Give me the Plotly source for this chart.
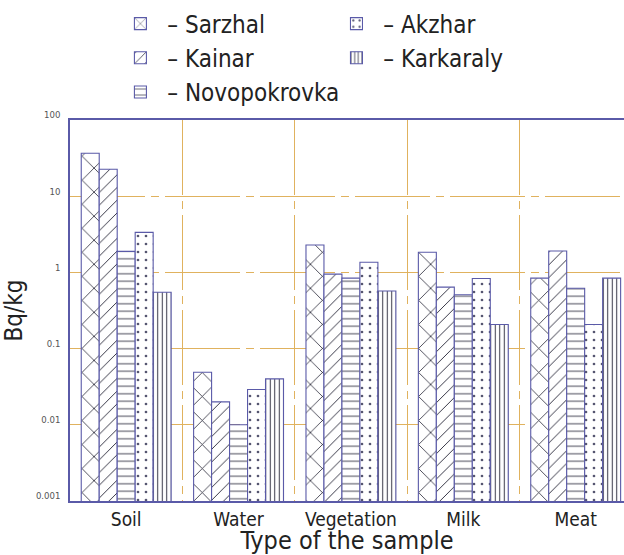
import plotly.graph_objects as go

categories = ["Soil", "Water", "Vegetation", "Milk", "Meat"]
sarzhal = [36.6, 0.049, 2.29, 1.84, 0.84]
kainar = [22.6, 0.020, 0.95, 0.64, 1.91]
novopokrovka = [1.89, 0.010, 0.84, 0.51, 0.62]
akzhar = [3.35, 0.029, 1.36, 0.83, 0.207]
karkaraly = [0.55, 0.040, 0.57, 0.207, 0.84]

NB = "\u00a0"
series = [
    (NB + "– Sarzhal", sarzhal, "x", 17, 0.09, "#222233", "legend"),
    (NB + "– Kainar", kainar, "/", 9, 0.1, "#222233", "legend"),
    (NB + "– Novopokrovka", novopokrovka, "-", 7.5, 0.12, "#333344", "legend"),
    (NB + "– Akzhar", akzhar, ".", 8, 0.09, "#555570", "legend2"),
    (NB + "– Karkaraly", karkaraly, "|", 4.5, 0.22, "#333344", "legend2"),
]

FONT = "Liberation Sans Narrow, DejaVu Sans Condensed, Arial Narrow, sans-serif"
EDGE = "#5a5aa8"
GRID = "#e0b25e"

fig = go.Figure()
for name, vals, shape, size, sol, fg, leg in series:
    fig.add_trace(go.Bar(
        x=categories, y=vals, name=name, legend=leg,
        marker=dict(color="white",
                    line=dict(color=EDGE, width=1.1),
                    pattern=dict(shape=shape, size=size, solidity=sol,
                                 fgcolor=fg, bgcolor="white",
                                 fillmode="replace")),
    ))

fig.update_layout(
    width=624, height=555,
    margin=dict(l=70, r=0, t=120, b=54),
    paper_bgcolor="white", plot_bgcolor="white",
    barmode="group", bargap=0.2, bargroupgap=0,
    font=dict(family=FONT, color="#222222"),
    legend=dict(x=0.091, y=1.311, xanchor="left", yanchor="top",
                font=dict(size=24, family=FONT, color="#222222"),
                bgcolor="rgba(0,0,0,0)", tracegroupgap=0),
    legend2=dict(x=0.481, y=1.311, xanchor="left", yanchor="top",
                 font=dict(size=24, family=FONT, color="#222222"),
                 bgcolor="rgba(0,0,0,0)", tracegroupgap=0),
    xaxis=dict(
        type="category", range=[-0.5, 4.43],
        tickson="boundaries", ticks="",
        showgrid=True, gridcolor=GRID, gridwidth=1,
        griddash="75px,6px,8px,6px",
        showline=True, linecolor=EDGE, linewidth=1.5, mirror=True,
        tickfont=dict(size=19, family=FONT, color="#222222"),
        title=dict(text="Type of the sample", standoff=0,
                   font=dict(size=25, family=FONT, color="#222222")),
    ),
    yaxis=dict(
        type="log", range=[-3, 2],
        tickvals=[0.001, 0.01, 0.1, 1, 10, 100],
        ticktext=["0.001", "0.01", "0.1", "1", "10", "100"],
        ticks="", ticklabelshift=-5, ticklabelstandoff=6,
        showgrid=True, gridcolor=GRID, gridwidth=1,
        griddash="75px,6px,8px,6px",
        showline=True, linecolor=EDGE, linewidth=1.5,
        zeroline=False,
        tickfont=dict(size=9.5, family=FONT, color="#555555"),
        title=dict(text="Bq/kg", standoff=6,
                   font=dict(size=24, family=FONT, color="#222222")),
    ),
)

fig.write_html("out.html",
               config={"displayModeBar": False},
               post_script="document.body.style.margin='0px';"
                           "document.body.style.overflow='hidden';")
